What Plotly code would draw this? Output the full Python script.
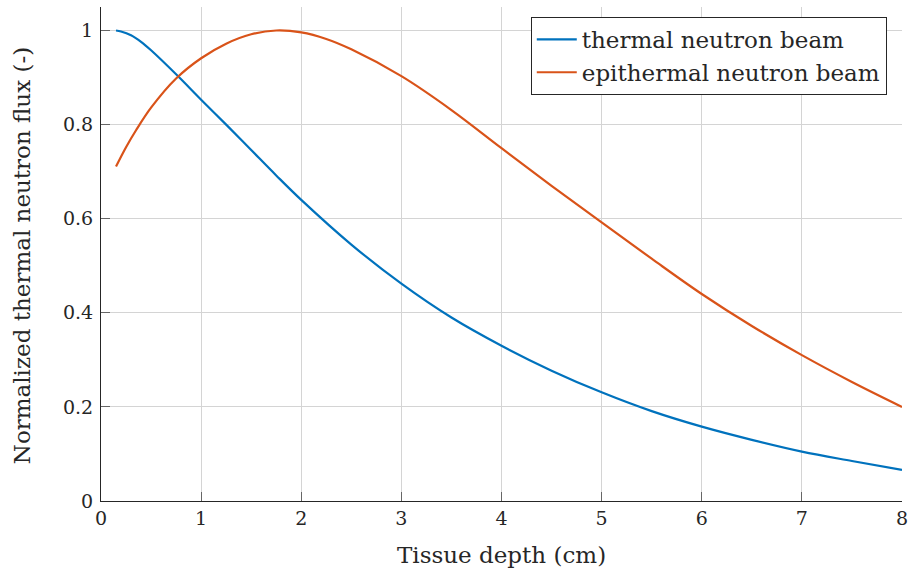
import plotly.graph_objects as go

depth_thermal = [0.15, 0.2, 0.3, 0.4, 0.5, 0.75, 1.0, 1.25, 1.5, 1.75, 2.0, 2.5, 3.0, 3.5, 4.0, 4.5, 5.0, 5.5, 6.0, 6.5, 7.0, 7.5, 8.0]
flux_thermal = [1.0, 0.998, 0.990, 0.976, 0.958, 0.907, 0.853, 0.800, 0.746, 0.692, 0.640, 0.545, 0.462, 0.390, 0.330, 0.277, 0.231, 0.191, 0.158, 0.130, 0.105, 0.085, 0.066]

depth_epi = [0.15, 0.25, 0.35, 0.5, 0.75, 1.0, 1.25, 1.5, 1.75, 2.0, 2.25, 2.5, 3.0, 3.5, 4.0, 4.5, 5.0, 5.5, 6.0, 6.5, 7.0, 7.5, 8.0]
flux_epi = [0.711, 0.752, 0.788, 0.836, 0.898, 0.941, 0.972, 0.992, 1.0, 0.996, 0.982, 0.960, 0.903, 0.831, 0.750, 0.670, 0.592, 0.515, 0.440, 0.372, 0.310, 0.253, 0.200]

x_ticks = [0, 1, 2, 3, 4, 5, 6, 7, 8]
y_ticks = [0, 0.2, 0.4, 0.6, 0.8, 1]
y_ticklabels = ["0", "0.2", "0.4", "0.6", "0.8", "1"]

font_family = "DejaVu Serif, Liberation Serif, serif"
text_color = "#262626"

fig = go.Figure()
fig.add_trace(go.Scatter(x=depth_thermal, y=flux_thermal, mode="lines",
                         line=dict(color="#0072bd", width=2.2, shape="spline", smoothing=1.0),
                         name="thermal neutron beam", legendgroup="a"))
fig.add_trace(go.Scatter(x=depth_epi, y=flux_epi, mode="lines",
                         line=dict(color="#d95319", width=2.2, shape="spline", smoothing=1.0),
                         name="epithermal neutron beam", legendgroup="b"))

axis_common = dict(showgrid=True, gridcolor="#d4d4d4", gridwidth=1, automargin=False,
                   zeroline=False, showline=True, linecolor="#262626", linewidth=1.2,
                   ticks="inside", ticklen=9, tickcolor="#666666", tickwidth=1,
                   tickfont=dict(family=font_family, size=19, color=text_color))

fig.update_layout(
    width=910, height=573,
    margin=dict(l=101, r=8, t=7, b=72),
    paper_bgcolor="white", plot_bgcolor="white",
    font=dict(family=font_family, size=20, color=text_color),
    xaxis=dict(range=[0, 8], tickvals=x_ticks, ticktext=[str(v) for v in x_ticks], **axis_common),
    yaxis=dict(range=[0, 1.05], tickvals=y_ticks, ticktext=y_ticklabels,
               ticklabelstandoff=3, **axis_common),
    legend=dict(x=0.981, y=0.98, xanchor="right", yanchor="top",
                bgcolor="white", bordercolor="#262626", borderwidth=1,
                font=dict(family=font_family, size=23, color=text_color),
                tracegroupgap=0, itemwidth=40),
    showlegend=True,
    annotations=[
        dict(text="Tissue depth (cm)", xref="paper", yref="paper", x=0.5, y=-0.109,
             xanchor="center", yanchor="middle", showarrow=False,
             font=dict(family=font_family, size=23, color=text_color)),
        dict(text="Normalized thermal neutron flux (-)", xref="paper", yref="paper",
             x=-0.0986, y=0.4955, xanchor="center", yanchor="middle", textangle=-90,
             showarrow=False, font=dict(family=font_family, size=23, color=text_color)),
    ],
)

fig.write_html("out.html", config={"displayModeBar": False},
               post_script="document.body.style.margin='0';document.body.style.padding='0';")
